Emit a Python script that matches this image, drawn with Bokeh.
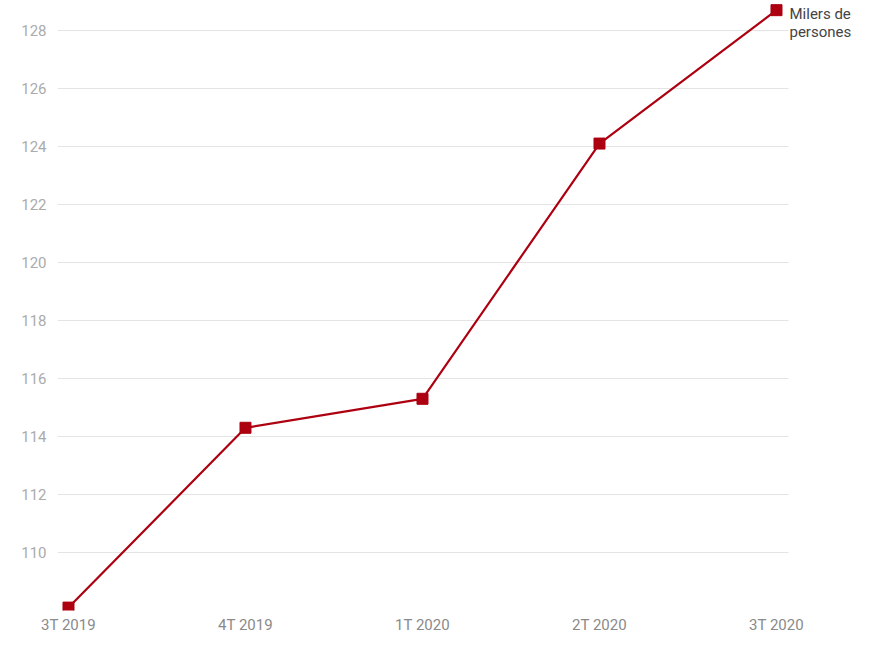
from bokeh.plotting import figure
from bokeh.models import Range1d, FixedTicker, Label
from bokeh.embed import file_html
from bokeh.resources import INLINE

categories = ["3T 2019", "4T 2019", "1T 2020", "2T 2020", "3T 2020"]
values = [108.1, 114.3, 115.3, 124.1, 128.7]
y_ticks = [110, 112, 114, 116, 118, 120, 122, 124, 126, 128]
series_label = ["Milers de", "persones"]

xs = list(range(len(categories)))
x_start = xs[0] - 0.0621
grid_end = xs[-1] + 0.0678

p = figure(width=865, height=650, output_backend="svg", toolbar_location=None,
           x_range=Range1d(x_start, xs[-1] + 0.4746), y_range=Range1d(108.0, 128.93),
           min_border_left=57, min_border_right=5, min_border_top=3, min_border_bottom=40)
p.outline_line_color = None
p.background_fill_color = "white"
p.border_fill_color = "white"

p.xaxis.ticker = FixedTicker(ticks=xs)
p.xaxis.major_label_overrides = {i: c for i, c in enumerate(categories)}
p.yaxis.ticker = FixedTicker(ticks=y_ticks)

for ax in (p.xaxis[0], p.yaxis[0]):
    ax.axis_line_color = None
    ax.major_tick_line_color = None
    ax.minor_tick_line_color = None
    ax.major_label_text_font = "Roboto"
p.xaxis.major_label_text_font_size = "15px"
p.xaxis.major_label_text_color = "#8a8a8a"
p.xaxis.major_label_standoff = -1
p.yaxis.major_label_text_font_size = "15px"
p.yaxis.major_label_text_color = "#ababab"
p.yaxis.major_label_standoff = 5

p.xgrid.grid_line_color = None
p.ygrid.grid_line_color = "#e4e4e4"
p.ygrid.grid_line_width = 1
p.ygrid.cross_bounds = (x_start, grid_end)

p.line(xs, values, line_color="#ad0010", line_width=2.2)
p.scatter(xs, values, marker="square", size=11, fill_color="#ad0010", line_color="#ad0010")

for i, t in enumerate(series_label):
    lbl = Label(x=xs[-1], y=values[-1], text=t, x_offset=13, y_offset=-4 - 18 * i,
                x_units="data", y_units="data", level="overlay",
                text_font="Roboto", text_font_size="15px", text_color="#444444",
                text_baseline="middle", text_align="left")
    p.add_layout(lbl)

open("out.html", "w").write(file_html(p, INLINE))
